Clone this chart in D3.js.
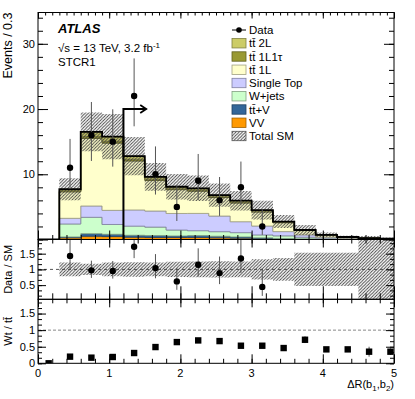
<!DOCTYPE html>
<html>
<head>
<meta charset="utf-8">
<script src="https://cdn.jsdelivr.net/npm/d3@7"></script>
<style>
  body { margin: 0; background: #fff; }
  text { font-family: "Liberation Sans", Arial, Helvetica, sans-serif; }
</style>
</head>
<body>
<div id="chart"></div>
<script>
// Binning of dR(b1,b2)
const binEdges = [0, 0.3, 0.6, 0.9, 1.2, 1.5, 1.8, 2.1, 2.4, 2.7, 3.0, 3.3, 3.6, 3.9, 4.2, 4.5, 4.8, 5.1];
const binCenters = [0.15, 0.45, 0.75, 1.05, 1.35, 1.65, 1.95, 2.25, 2.55, 2.85, 3.15, 3.45, 3.75, 4.05, 4.35, 4.65, 4.95];

// Background stack (events per bin), bottom to top
const vv       = [0, 0.25, 0.5, 0.45, 0.35, 0.3, 0.3, 0.3, 0.25, 0.2, 0.15, 0.08, 0.05, 0.03, 0.02, 0.01, 0.01];
const ttV      = [0, 0.15, 0.4, 0.35, 0.3, 0.3, 0.25, 0.3, 0.25, 0.2, 0.1, 0.08, 0.05, 0.03, 0.02, 0.01, 0.01];
const wjets    = [0, 1.98, 2.5, 1.5, 1.4, 1.3, 0.9, 0.75, 0.7, 0.65, 0.45, 0.4, 0.25, 0.15, 0.08, 0.05, 0.03];
const singleTop= [0, 0.87, 1.74, 2.17, 2.48, 2.47, 2.54, 2.65, 2.4, 1.68, 1.37, 0.65, 0.35, 0.15, 0.08, 0.05, 0.03];
const tt1L     = [0, 4.05, 10.36, 10.3, 7.5, 4.68, 3.65, 3.4, 2.83, 2.85, 2.13, 1.36, 0.67, 0.3, 0.15, 0.09, 0.04];
const tt1L1tau = [0, 0.1, 0.3, 0.3, 0.25, 0.2, 0.15, 0.15, 0.12, 0.12, 0.1, 0.06, 0.03, 0.02, 0.01, 0, 0];
const tt2L     = [0, 0.3, 0.7, 0.7, 0.5, 0.35, 0.3, 0.3, 0.25, 0.25, 0.2, 0.12, 0.06, 0.03, 0.02, 0.01, 0.01];

// relative total SM uncertainty
const relUnc = [0, 0.22, 0.18, 0.22, 0.23, 0.22, 0.24, 0.25, 0.26, 0.25, 0.32, 0.36, 0.53, 0.53, 0.53, 1.5, 1.5];

// Data counts and 68% Poisson intervals
const dataCounts = [null, 11, 16, 15, 22, 10, 5, 9, 6, 8, 2, null, null, null, null, null, null];
const dataLo     = [null, 7.73, 12.04, 11.17, 17.35, 6.89, 2.84, 6.06, 3.62, 5.23, 0.71, null, null, null, null, null, null];
const dataHi     = [null, 15.42, 21.08, 19.96, 27.76, 14.27, 8.38, 13.11, 9.58, 11.95, 4.64, null, null, null, null, null, null];

// Wt / ttbar ratio
const wtRatio = [0, 0.2, 0.17, 0.19, 0.31, 0.49, 0.64, 0.69, 0.67, 0.53, 0.53, 0.46, 0.71, 0.42, 0.42, 0.35, 0.35];
const wtErr   = [0.01, 0.03, 0.03, 0.03, 0.03, 0.03, 0.03, 0.03, 0.03, 0.03, 0.03, 0.03, 0.1, 0.07, 0.05, 0.15, 0.1];

const yTicksMain = [10, 20, 30];
const yTicksRatio = [0.5, 1, 1.5];
const yTicksWt = [0, 0.5, 1, 1.5];
const xTickLabels = [0, 1, 2, 3, 4, 5];

const cutValue = 1.2, arrowLevel = 20, arrowEnd = 1.52;

const layers = [
  { key: "vv", label: "VV", values: vv, color: "#ff9900" },
  { key: "ttV", label: "tt\u0304+V", values: ttV, color: "#336699" },
  { key: "wjets", label: "W+jets", values: wjets, color: "#ccffcc" },
  { key: "st", label: "Single Top", values: singleTop, color: "#ccccff" },
  { key: "tt1L", label: "tt\u0304 1L", values: tt1L, color: "#ffffcc" },
  { key: "tt1L1tau", label: "tt\u0304 1L1\u03c4", values: tt1L1tau, color: "#999933" },
  { key: "tt2L", label: "tt\u0304 2L", values: tt2L, color: "#cccc66" }
];

const width = 415, height = 399;
const left = 38, right = 394;
const mainTop = 12.5, mainBot = 239.5, ratioBot = 299.3, wtBot = 363.3;

const svg = d3.select("#chart").append("svg")
  .attr("width", width).attr("height", height);

const defs = svg.append("defs");
const hatch = defs.append("pattern").attr("id", "hatch")
  .attr("patternUnits", "userSpaceOnUse").attr("width", 3.2).attr("height", 3.2);
hatch.append("path").attr("d", "M0,3.2 L3.2,0 M-1,1 L1,-1 M2.2,4.2 L4.2,2.2")
  .attr("stroke", "#3a3a3a").attr("stroke-width", 0.85);

function clip(id, y0, y1) {
  defs.append("clipPath").attr("id", id).append("rect")
    .attr("x", left).attr("y", y0).attr("width", right - left).attr("height", y1 - y0);
}
clip("clipMain", mainTop, mainBot);
clip("clipRatio", mainBot, ratioBot);
clip("clipWt", ratioBot, wtBot);

const x = d3.scaleLinear().domain([0, 5]).range([left, right]);
const y = d3.scaleLinear().domain([0, 34.8]).range([mainBot, mainTop]);
const yR = d3.scaleLinear().domain([0.05, 1.95]).range([ratioBot, mainBot]);
const yW = d3.scaleLinear().domain([0, 1.93]).range([wtBot, ratioBot]);

const nBins = binCenters.length;
const rows = binCenters.map((c, i) => {
  const r = {};
  layers.forEach(l => r[l.key] = l.values[i]);
  return r;
});
const stacked = d3.stack().keys(layers.map(l => l.key))(rows);
const total = rows.map(r => d3.sum(layers, l => r[l.key]));

// pad the last bin so the step reaches the last edge
const edgeIdx = d3.range(binEdges.length);
const at = (arr, i) => arr[Math.min(i, nBins - 1)];

// ---- main panel ----
const gMain = svg.append("g").attr("clip-path", "url(#clipMain)");

stacked.forEach((s, k) => {
  const area = d3.area()
    .x(i => x(binEdges[i]))
    .y0(i => y(at(s, i)[0]))
    .y1(i => y(at(s, i)[1]))
    .curve(d3.curveStepAfter);
  gMain.append("path").attr("d", area(edgeIdx))
    .attr("fill", layers[k].color)
    .attr("stroke", d3.color(layers[k].color).darker(1.3))
    .attr("stroke-width", 0.8);
});

const hatchArea = d3.area()
  .x(i => x(binEdges[i]))
  .y0(i => y(Math.max(0, at(total, i) * (1 - at(relUnc, i)))))
  .y1(i => y(at(total, i) * (1 + at(relUnc, i))))
  .curve(d3.curveStepAfter);
gMain.append("path").attr("d", hatchArea(edgeIdx)).attr("fill", "url(#hatch)");

const totalLine = d3.line()
  .x(i => x(binEdges[i]))
  .y(i => y(at(total, i)))
  .curve(d3.curveStepAfter);
gMain.append("path").attr("d", totalLine(edgeIdx))
  .attr("fill", "none").attr("stroke", "#000").attr("stroke-width", 1.8);

const dataIdx = d3.range(nBins).filter(i => dataCounts[i] !== null);
gMain.selectAll(".derr").data(dataIdx).join("line")
  .attr("x1", i => x(binCenters[i])).attr("x2", i => x(binCenters[i]))
  .attr("y1", i => y(dataLo[i])).attr("y2", i => y(dataHi[i]))
  .attr("stroke", "#555").attr("stroke-width", 1);
gMain.selectAll(".dpt").data(dataIdx).join("circle")
  .attr("cx", i => x(binCenters[i])).attr("cy", i => y(dataCounts[i]))
  .attr("r", 3.2).attr("fill", "#000");

// cut arrow
svg.append("path")
  .attr("d", `M${x(cutValue)},${y(0)} V${y(arrowLevel)} H${x(arrowEnd)}`)
  .attr("fill", "none").attr("stroke", "#000").attr("stroke-width", 2);
svg.append("path")
  .attr("d", `M${x(arrowEnd) - 6},${y(arrowLevel) - 4} L${x(arrowEnd)},${y(arrowLevel)} L${x(arrowEnd) - 6},${y(arrowLevel) + 4}`)
  .attr("fill", "none").attr("stroke", "#000").attr("stroke-width", 1.8);

// ---- ratio panel ----
const gRatio = svg.append("g").attr("clip-path", "url(#clipRatio)");
gRatio.append("line").attr("x1", left).attr("x2", right)
  .attr("y1", yR(1)).attr("y2", yR(1))
  .attr("stroke", "#555").attr("stroke-dasharray", "3,3");
const bandArea = d3.area()
  .x(i => x(binEdges[i]))
  .y0(i => yR(1 - at(relUnc, i)))
  .y1(i => yR(1 + at(relUnc, i)))
  .curve(d3.curveStepAfter);
gRatio.append("path").attr("d", bandArea(edgeIdx.slice(1))).attr("fill", "url(#hatch)");
gRatio.selectAll(".rerr").data(dataIdx).join("line")
  .attr("x1", i => x(binCenters[i])).attr("x2", i => x(binCenters[i]))
  .attr("y1", i => yR(dataLo[i] / total[i])).attr("y2", i => yR(dataHi[i] / total[i]))
  .attr("stroke", "#555").attr("stroke-width", 1);
gRatio.selectAll(".rpt").data(dataIdx).join("circle")
  .attr("cx", i => x(binCenters[i])).attr("cy", i => yR(dataCounts[i] / total[i]))
  .attr("r", 3.2).attr("fill", "#000");

// ---- Wt / tt panel ----
const gWt = svg.append("g").attr("clip-path", "url(#clipWt)");
gWt.append("line").attr("x1", left).attr("x2", right)
  .attr("y1", yW(1)).attr("y2", yW(1))
  .attr("stroke", "#888").attr("stroke-dasharray", "3,2");
gWt.selectAll(".werr").data(d3.range(nBins)).join("line")
  .attr("x1", i => x(binCenters[i])).attr("x2", i => x(binCenters[i]))
  .attr("y1", i => yW(wtRatio[i] - wtErr[i])).attr("y2", i => yW(wtRatio[i] + wtErr[i]))
  .attr("stroke", "#555").attr("stroke-width", 1);
gWt.selectAll(".wpt").data(d3.range(nBins)).join("rect")
  .attr("x", i => x(binCenters[i]) - 3.2).attr("y", i => yW(wtRatio[i]) - 3.2)
  .attr("width", 6.4).attr("height", 6.4).attr("fill", "#000");

// ---- frames and ticks ----
[[mainTop, mainBot], [mainBot, ratioBot], [ratioBot, wtBot]].forEach(([a, b]) => {
  svg.append("rect").attr("x", left).attr("y", a).attr("width", right - left).attr("height", b - a)
    .attr("fill", "none").attr("stroke", "#000").attr("stroke-width", 1);
});

function tickSet(axisFn, scale, values, size, tx, ty) {
  svg.append("g").attr("transform", `translate(${tx},${ty})`)
    .call(axisFn(scale).tickValues(values).tickSize(size).tickFormat(""))
    .call(g => g.select(".domain").remove());
}
const xMinor02 = d3.range(0, 5.001, 0.2);
const xMinor01 = d3.range(0, 5.001, 0.1);

// main panel
tickSet(d3.axisBottom, x, xMinor01, 3, 0, mainTop);
tickSet(d3.axisBottom, x, xTickLabels, 6, 0, mainTop);
tickSet(d3.axisTop, x, xMinor02, 4.5, 0, mainBot);
tickSet(d3.axisTop, x, xTickLabels, 9, 0, mainBot);
tickSet(d3.axisRight, y, d3.range(0, 35, 2), 5, left, 0);
tickSet(d3.axisRight, y, [0, 10, 20, 30], 10, left, 0);
tickSet(d3.axisLeft, y, d3.range(0, 35, 2), 5, right, 0);
tickSet(d3.axisLeft, y, [0, 10, 20, 30], 10, right, 0);

// ratio panel
const rMinor = d3.range(0, 12).map(k => k / 6).filter(v => v > 0.05 && v < 1.95);
tickSet(d3.axisBottom, x, xMinor02, 4, 0, mainBot);
tickSet(d3.axisBottom, x, xTickLabels, 8, 0, mainBot);
tickSet(d3.axisTop, x, xMinor02, 6, 0, ratioBot);
tickSet(d3.axisTop, x, xTickLabels, 13, 0, ratioBot);
tickSet(d3.axisRight, yR, rMinor, 4, left, 0);
tickSet(d3.axisRight, yR, yTicksRatio, 8, left, 0);
tickSet(d3.axisLeft, yR, rMinor, 4, right, 0);
tickSet(d3.axisLeft, yR, yTicksRatio, 8, right, 0);

// Wt panel
tickSet(d3.axisBottom, x, xMinor02, 4, 0, ratioBot);
tickSet(d3.axisBottom, x, xTickLabels, 8, 0, ratioBot);
tickSet(d3.axisTop, x, xMinor02, 4.5, 0, wtBot);
tickSet(d3.axisTop, x, xTickLabels, 9, 0, wtBot);
const wMinor = d3.range(0, 12).map(k => k / 6).filter(v => v < 1.93);
tickSet(d3.axisRight, yW, wMinor, 4, left, 0);
tickSet(d3.axisRight, yW, yTicksWt, 8, left, 0);
tickSet(d3.axisLeft, yW, wMinor, 4, right, 0);
tickSet(d3.axisLeft, yW, yTicksWt, 8, right, 0);

// tick labels
const fs = "11px";
svg.selectAll(".ylm").data(yTicksMain).join("text")
  .attr("x", 35).attr("y", d => y(d)).attr("dy", "0.35em")
  .attr("text-anchor", "end").attr("font-size", fs).text(d => d);
svg.selectAll(".ylr").data(yTicksRatio).join("text")
  .attr("x", 35).attr("y", d => yR(d)).attr("dy", "0.35em")
  .attr("text-anchor", "end").attr("font-size", fs).text(d => d);
svg.selectAll(".ylw").data(yTicksWt).join("text")
  .attr("x", 35).attr("y", d => yW(d)).attr("dy", "0.35em")
  .attr("text-anchor", "end").attr("font-size", fs).text(d => d);
svg.selectAll(".xl").data(xTickLabels).join("text")
  .attr("x", d => x(d)).attr("y", 377)
  .attr("text-anchor", "middle").attr("font-size", fs).text(d => d);

// axis titles
const xt = svg.append("text").attr("x", right).attr("y", 388)
  .attr("text-anchor", "end").attr("font-size", fs);
xt.append("tspan").text("\u0394R(b");
xt.append("tspan").attr("font-size", "8px").attr("dy", 2.5).text("1");
xt.append("tspan").attr("dy", -2.5).text(",b");
xt.append("tspan").attr("font-size", "8px").attr("dy", 2.5).text("2");
xt.append("tspan").attr("dy", -2.5).text(")");

svg.append("text").attr("transform", `translate(12,${mainTop}) rotate(-90)`)
  .attr("text-anchor", "end").attr("font-size", "12.5px").text("Events / 0.3");
svg.append("text").attr("transform", `translate(12,${(mainBot + ratioBot) / 2}) rotate(-90)`)
  .attr("text-anchor", "middle").attr("font-size", fs).text("Data / SM");
svg.append("text").attr("transform", `translate(12,${(ratioBot + wtBot) / 2}) rotate(-90)`)
  .attr("text-anchor", "middle").attr("font-size", fs).text("Wt / tt\u0304");

// labels
svg.append("text").attr("x", 58).attr("y", 33).attr("font-size", "13px")
  .attr("font-weight", "bold").attr("font-style", "italic").text("ATLAS");
const lumi = svg.append("text").attr("x", 58).attr("y", 51.5).attr("font-size", "11.5px");
lumi.append("tspan").text("\u221As = 13 TeV, 3.2 fb");
lumi.append("tspan").attr("font-size", "8px").attr("dy", -4).text("-1");
svg.append("text").attr("x", 58).attr("y", 65.5).attr("font-size", "11.5px").text("STCR1");

// legend
const legX = 232, legY = 30, legStep = 13.25, legFs = "11.5px";
const legG = svg.append("g");
legG.append("line").attr("x1", legX).attr("x2", legX + 14).attr("y1", legY).attr("y2", legY)
  .attr("stroke", "#000");
legG.append("circle").attr("cx", legX + 7).attr("cy", legY).attr("r", 2.8).attr("fill", "#000");
legG.append("text").attr("x", legX + 17).attr("y", legY + 4.2).attr("font-size", legFs).text("Data");

const legEntries = layers.slice().reverse()
  .map(l => ({ label: l.label, fill: l.color, stroke: d3.color(l.color).darker(1.3) }))
  .concat([{ label: "Total SM", fill: "url(#hatch)", stroke: "#555" }]);
legEntries.forEach((e, k) => {
  const yy = legY + (k + 1) * legStep;
  legG.append("rect").attr("x", legX).attr("y", yy - 4.7).attr("width", 14).attr("height", 9.4)
    .attr("fill", e.fill).attr("stroke", e.stroke).attr("stroke-width", 0.8);
  legG.append("text").attr("x", legX + 17).attr("y", yy + 4.2).attr("font-size", legFs).text(e.label);
});
</script>
</body>
</html>
